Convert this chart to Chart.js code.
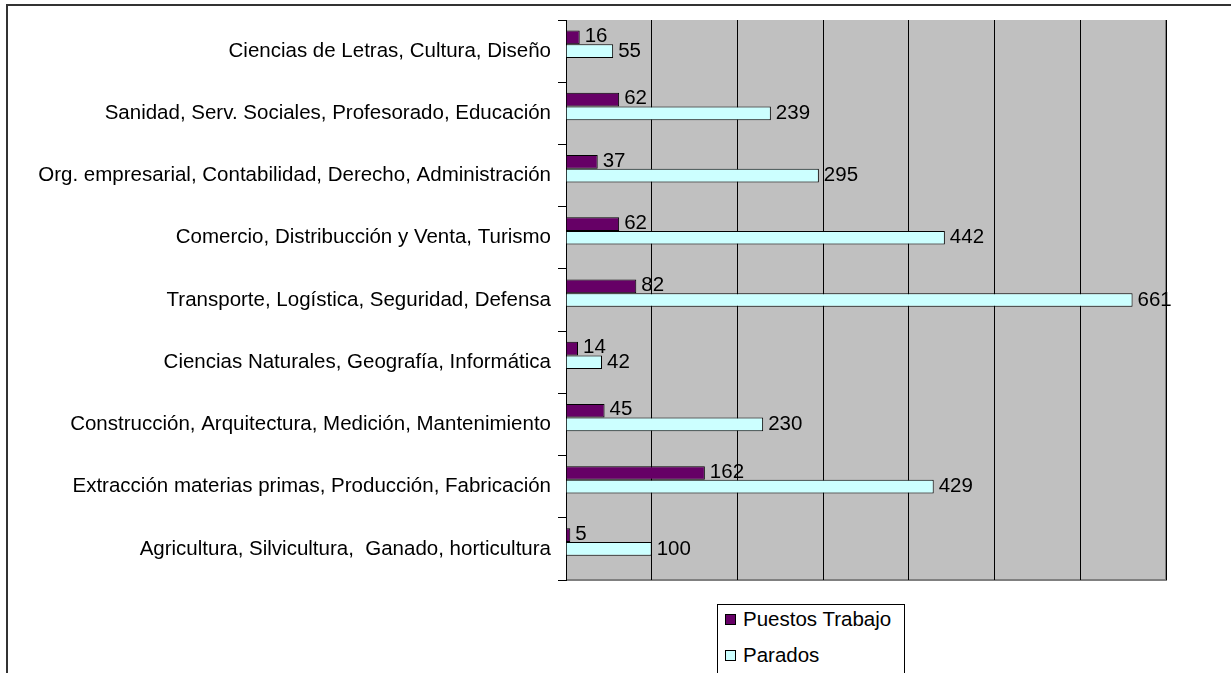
<!DOCTYPE html>
<html>
<head>
<meta charset="utf-8">
<script src="https://cdn.jsdelivr.net/npm/chart.js@4.4.0/dist/chart.umd.min.js"></script>
<style>
  html, body { margin: 0; padding: 0; background: #fff; overflow: hidden; }
  #frame {
    position: absolute; left: 6px; top: 4px; width: 1240px; height: 700px;
    border-left: 2px solid #333; border-top: 2px solid #333;
  }
  #wrap { position: absolute; left: 0; top: 0; width: 1231px; height: 673px; }
  #legend {
    position: absolute; left: 717px; top: 604px; width: 186px; height: 80px;
    border: 1px solid #000; background: #fff;
    font-family: "Liberation Sans", Arial, sans-serif; font-size: 20.5px; color: #000;
  }
  .item { position: absolute; left: 7px; display: flex; align-items: center; white-space: nowrap; }
  .box { width: 9px; height: 9px; border: 1px solid #000; margin-right: 7px; }
</style>
</head>
<body>
<div id="frame"></div>
<div id="wrap"><canvas id="chart" width="1231" height="673"></canvas></div>
<div id="legend"></div>
<script>
// categorías de arriba a abajo
const categorias = [
  'Ciencias de Letras, Cultura, Diseño',
  'Sanidad, Serv. Sociales, Profesorado, Educación',
  'Org. empresarial, Contabilidad, Derecho, Administración',
  'Comercio, Distribucción y Venta, Turismo',
  'Transporte, Logística, Seguridad, Defensa',
  'Ciencias Naturales, Geografía, Informática',
  'Construcción, Arquitectura, Medición, Mantenimiento',
  'Extracción materias primas, Producción, Fabricación',
  'Agricultura, Silvicultura,  Ganado, horticultura'
];
const puestosTrabajo = [16, 62, 37, 62, 82, 14, 45, 162, 5];
const parados = [55, 239, 295, 442, 661, 42, 230, 429, 100];

const FONT = '"Liberation Sans", Arial, sans-serif';
const FONT_SIZE = 20.5;

// fondo gris del área de trazado
const plotBg = {
  id: 'plotBg',
  beforeDraw(chart) {
    const { ctx, chartArea: a } = chart;
    ctx.save();
    ctx.fillStyle = '#c0c0c0';
    ctx.fillRect(a.left, a.top, a.right - a.left, a.bottom - a.top);
    ctx.strokeStyle = '#808080';
    ctx.lineWidth = 2;
    ctx.beginPath();
    ctx.moveTo(a.right, a.top);
    ctx.lineTo(a.right, a.bottom);
    ctx.lineTo(a.left, a.bottom);
    ctx.stroke();
    ctx.restore();
  }
};

// etiquetas de valor al final de cada barra
const valueLabels = {
  id: 'valueLabels',
  afterDatasetsDraw(chart) {
    const { ctx } = chart;
    ctx.save();
    ctx.font = FONT_SIZE + 'px ' + FONT;
    ctx.fillStyle = '#000';
    ctx.textBaseline = 'middle';
    ctx.textAlign = 'left';
    chart.data.datasets.forEach((ds, i) => {
      chart.getDatasetMeta(i).data.forEach((bar, j) => {
        const dy = i === 0 ? -1 : 0;
        ctx.fillText(String(ds.data[j]), bar.x + 5, bar.y + dy);
      });
    });
    ctx.restore();
  }
};

const barOpts = { borderColor: '#000', borderWidth: 1, barPercentage: 1, categoryPercentage: 0.66 };

const chart = new Chart(document.getElementById('chart'), {
  type: 'bar',
  data: {
    labels: categorias,
    datasets: [
      { label: 'Puestos Trabajo', data: puestosTrabajo, backgroundColor: '#660066', ...barOpts },
      { label: 'Parados', data: parados, backgroundColor: '#ccffff', ...barOpts },
      // hueco vacío como en Excel: sube el par de barras dentro de cada categoría
      { label: '', data: [], backgroundColor: 'rgba(0,0,0,0)', ...barOpts, borderWidth: 0 }
    ]
  },
  options: {
    indexAxis: 'y',
    responsive: false,
    animation: false,
    layout: { padding: { left: 0, top: 20, right: 65, bottom: 93 } },
    plugins: {
      legend: { display: false },
      tooltip: { enabled: false }
    },
    scales: {
      x: {
        min: 0,
        max: 700,
        ticks: { display: false, stepSize: 100 },
        grid: { color: '#000', lineWidth: 1, drawTicks: false },
        border: { display: false },
        afterFit(axis) { axis.height = 0; }
      },
      y: {
        ticks: { color: '#000', font: { family: FONT, size: FONT_SIZE }, padding: 7 },
        grid: { offset: true, drawOnChartArea: false, color: '#000', tickLength: 8 },
        border: { color: '#000', width: 1 },
        afterFit(axis) { axis.width = 566; }
      }
    }
  },
  plugins: [plotBg, valueLabels]
});

// leyenda en HTML
const legend = document.getElementById('legend');
chart.data.datasets.slice(0, 2).forEach((ds, i) => {
  const item = document.createElement('div');
  item.className = 'item';
  item.style.top = (i === 0 ? 2 : 38) + 'px';
  item.innerHTML = `<span class="box" style="background:${ds.backgroundColor}"></span><span>${ds.label}</span>`;
  legend.appendChild(item);
});
</script>
</body>
</html>
